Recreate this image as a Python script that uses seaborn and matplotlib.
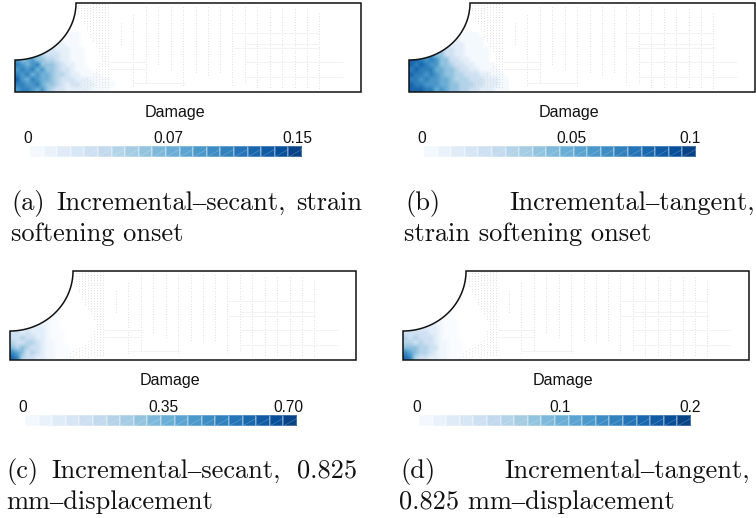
import numpy as np
import matplotlib
matplotlib.use('Agg')
import matplotlib.pyplot as plt
from matplotlib.colors import LinearSegmentedColormap, PowerNorm
from matplotlib.patches import Polygon
import seaborn as sns

W, H = 756, 518

# Damage field near the notch, in tenths (5 px cells)
damage_a = [
    [0, 0, 0, 0, 0, 0, 0, 0, 0, 0, 1, 1, 1, 0, 0, 0, 0, 0, 0, 0],
    [0, 0, 0, 0, 0, 0, 0, 0, 1, 1, 1, 1, 1, 0, 0, 0, 0, 0, 0, 0],
    [0, 0, 0, 0, 0, 0, 2, 2, 2, 2, 1, 1, 1, 0, 0, 0, 0, 0, 0, 0],
    [0, 0, 0, 0, 4, 4, 3, 3, 2, 2, 2, 1, 1, 1, 0, 0, 0, 0, 0, 0],
    [0, 0, 5, 5, 6, 4, 3, 3, 3, 2, 2, 1, 1, 1, 0, 0, 0, 0, 0, 0],
    [7, 5, 6, 7, 5, 5, 4, 4, 3, 2, 2, 1, 1, 1, 0, 0, 0, 0, 0, 0],
    [8, 7, 6, 7, 8, 5, 5, 5, 4, 3, 2, 2, 1, 1, 0, 0, 0, 0, 0, 0],
    [7, 8, 7, 8, 6, 7, 5, 5, 4, 3, 3, 2, 1, 1, 1, 0, 0, 0, 0, 0],
    [8, 7, 8, 6, 7, 6, 6, 5, 4, 4, 3, 2, 2, 1, 1, 1, 1, 0, 0, 0],
    [9, 7, 6, 8, 7, 6, 6, 5, 4, 3, 3, 3, 2, 2, 2, 1, 1, 1, 1, 0],
    [8, 8, 7, 7, 8, 6, 5, 5, 4, 3, 2, 3, 3, 2, 2, 2, 1, 1, 1, 1],
    [7, 8, 8, 7, 6, 7, 5, 4, 3, 3, 2, 2, 2, 2, 2, 1, 1, 1, 1, 0],
]
damage_b = [
    [0, 0, 0, 0, 0, 0, 0, 0, 0, 0, 1, 1, 1, 1, 0, 0, 0, 0, 0, 0],
    [0, 0, 0, 0, 0, 0, 0, 0, 2, 2, 1, 1, 1, 1, 1, 0, 0, 0, 0, 0],
    [0, 0, 0, 0, 0, 0, 4, 3, 2, 2, 2, 1, 1, 1, 1, 0, 0, 0, 0, 0],
    [0, 0, 0, 0, 6, 6, 5, 3, 3, 2, 2, 1, 1, 1, 1, 1, 0, 0, 0, 0],
    [0, 0, 8, 8, 7, 5, 5, 3, 3, 2, 2, 1, 1, 1, 1, 1, 0, 0, 0, 0],
    [9, 9, 8, 7, 8, 7, 5, 5, 3, 3, 2, 2, 1, 1, 1, 1, 0, 0, 0, 0],
    [9, 8, 9, 8, 7, 7, 5, 5, 4, 3, 3, 2, 2, 1, 1, 1, 1, 0, 0, 0],
    [8, 9, 8, 8, 8, 6, 6, 5, 5, 4, 3, 3, 2, 2, 1, 1, 1, 1, 0, 0],
    [9, 8, 8, 7, 8, 7, 6, 5, 5, 4, 4, 3, 3, 3, 2, 2, 1, 1, 1, 0],
    [8, 8, 7, 8, 7, 7, 6, 6, 5, 4, 4, 4, 3, 3, 3, 2, 2, 2, 1, 1],
    [9, 8, 8, 7, 7, 7, 6, 6, 5, 5, 4, 4, 4, 3, 3, 2, 2, 2, 1, 1],
    [9, 9, 9, 8, 8, 6, 7, 6, 5, 5, 4, 4, 3, 3, 2, 2, 2, 1, 1, 1],
]
damage_c = [
    [0, 0, 0, 0, 0, 0, 0, 0, 0, 0, 0, 0, 0, 0, 0, 0, 0, 0, 0, 0],
    [0, 0, 0, 0, 0, 0, 0, 0, 0, 0, 0, 0, 0, 0, 0, 0, 0, 0, 0, 0],
    [0, 0, 0, 0, 0, 0, 0, 1, 1, 1, 0, 0, 0, 0, 0, 0, 0, 0, 0, 0],
    [0, 0, 0, 0, 0, 1, 2, 2, 1, 1, 0, 0, 0, 0, 0, 0, 0, 0, 0, 0],
    [0, 0, 0, 2, 3, 3, 2, 2, 1, 1, 0, 0, 0, 0, 0, 0, 0, 0, 0, 0],
    [3, 3, 3, 3, 3, 3, 3, 2, 1, 1, 0, 0, 0, 0, 0, 0, 0, 0, 0, 0],
    [4, 4, 3, 4, 3, 3, 3, 2, 1, 1, 1, 0, 0, 0, 0, 0, 0, 0, 0, 0],
    [4, 4, 5, 4, 4, 3, 3, 2, 1, 1, 1, 0, 0, 0, 0, 0, 0, 0, 0, 0],
    [5, 4, 4, 5, 5, 4, 3, 2, 2, 1, 1, 0, 0, 0, 0, 0, 0, 0, 0, 0],
    [6, 5, 6, 5, 4, 4, 3, 2, 2, 1, 1, 1, 0, 0, 0, 0, 0, 0, 0, 0],
    [8, 7, 6, 4, 5, 4, 3, 2, 2, 1, 1, 1, 0, 0, 0, 0, 0, 0, 0, 0],
    [9, 8, 5, 4, 4, 3, 3, 2, 2, 1, 1, 1, 0, 0, 0, 0, 0, 0, 0, 0],
]
damage_d = [
    [0, 0, 0, 0, 0, 0, 0, 0, 0, 0, 0, 0, 0, 0, 0, 0, 0, 0, 0, 0],
    [0, 0, 0, 0, 0, 0, 0, 0, 0, 0, 0, 0, 0, 0, 0, 0, 0, 0, 0, 0],
    [0, 0, 0, 0, 0, 0, 0, 1, 1, 1, 0, 0, 0, 0, 0, 0, 0, 0, 0, 0],
    [0, 0, 0, 0, 0, 2, 2, 2, 1, 1, 0, 0, 0, 0, 0, 0, 0, 0, 0, 0],
    [0, 0, 0, 3, 3, 3, 2, 2, 1, 1, 1, 0, 0, 0, 0, 0, 0, 0, 0, 0],
    [3, 4, 4, 3, 3, 3, 3, 2, 1, 1, 1, 0, 0, 0, 0, 0, 0, 0, 0, 0],
    [4, 4, 4, 4, 4, 3, 3, 2, 1, 1, 1, 0, 0, 0, 0, 0, 0, 0, 0, 0],
    [5, 4, 5, 4, 4, 4, 3, 2, 1, 1, 1, 0, 0, 0, 0, 0, 0, 0, 0, 0],
    [5, 5, 4, 5, 4, 4, 3, 2, 2, 1, 1, 1, 0, 0, 0, 0, 0, 0, 0, 0],
    [6, 6, 6, 5, 5, 4, 4, 2, 2, 1, 1, 1, 0, 0, 0, 0, 0, 0, 0, 0],
    [8, 7, 6, 5, 5, 4, 3, 2, 2, 1, 1, 1, 0, 0, 0, 0, 0, 0, 0, 0],
    [9, 8, 5, 4, 4, 3, 3, 2, 2, 1, 1, 1, 0, 0, 0, 0, 0, 0, 0, 0],
]
fields = [damage_a, damage_b, damage_c, damage_d]
field_gamma = [1.0, 0.95, 1.25, 1.25]

# Legend strips
legend_levels = [0, 1, 2, 3, 4, 5, 6, 7, 8, 9, 10, 11, 12, 13, 14, 15, 16, 17, 18, 19]
tick_labels = [['0', '0.07', '0.15'], ['0', '0.05', '0.1'], ['0', '0.35', '0.70'], ['0', '0.1', '0.2']]

# Faint mesh columns
mesh_x = [106, 118, 131, 143, 156, 168, 181, 193, 205, 217, 230, 242, 255, 267, 280, 292, 304]
mesh_top = [20, 12, 4, 4, 4, 4, 4, 4, 4, 4, 4, 4, 6, 6, 6, 6, 10]
mesh_bottom = [42, 84, 80, 62, 68, 84, 70, 72, 70, 82, 80, 86, 86, 86, 86, 86, 86]
dot_x = [63, 66, 69, 72, 75, 78, 81, 84, 87, 90, 93]
dot_top = [2, 2, 2, 2, 2, 1, 1, 1, 1, 1, 1]
dot_bottom = [10, 16, 22, 28, 34, 38, 43, 50, 86, 86, 86]
band_x = [60, 63, 66, 69, 72, 75, 78, 81, 84]
band_top = [82, 80, 78, 77, 76, 74, 70, 66, 60]
hline_y = [30, 41, 45, 59, 59, 66, 74, 80]
hline_x0 = [218, 230, 218, 94, 230, 94, 230, 118]
hline_x1 = [305, 305, 305, 132, 328, 132, 328, 170]

# Panel frames in image pixels: left, top, notch width, notch height
panel_left = [15, 409, 10, 403]
panel_top = [3, 3, 271, 271]
notch_w = [61, 61, 63, 63]
notch_h = [57, 57, 60, 60]
panel_w = 346
panel_h = 89

bar_left = [30, 424, 25, 419]
bar_top = [146, 146, 415, 415]
bar_w = 272
bar_h = 11
title_x = [175, 569, 170, 563]
title_y = [112, 112, 381, 381]
tick_x = [[28, 168, 297], [422, 571, 690], [23, 163, 288], [417, 560, 690]]
tick_y = [138.5, 138.5, 407, 407]

sns.set_theme(style='white')
plt.rcParams['font.family'] = ['Liberation Sans', 'DejaVu Sans']
blues = LinearSegmentedColormap.from_list('damage', ['#ffffff', '#f4f9fd'] + sns.color_palette('Blues', 8))

fig = plt.figure(figsize=(W / 100, H / 100), dpi=100)


def px_axes(x, y, w, h):
    a = fig.add_axes([x / W, 1 - (y + h) / H, w / W, h / H])
    a.set_axis_off()
    return a


def px_text(x, y, s, **kw):
    fig.text(x / W, 1 - y / H, s, **kw)


dash = (0, (0.7, 2.4))
for i in range(4):
    ax = px_axes(panel_left[i], panel_top[i], panel_w, panel_h)

    t = np.linspace(0, np.pi / 2, 60)
    edge_x = np.r_[notch_w[i] * np.cos(t), 0, panel_w, panel_w]
    edge_y = np.r_[notch_h[i] * np.sin(t), panel_h, panel_h, 0]
    outline = np.column_stack([edge_x, edge_y])

    im = ax.imshow(np.array(fields[i]) / 10, cmap=blues, norm=PowerNorm(field_gamma[i], vmin=0, vmax=1), aspect='auto',
                   interpolation='bilinear', extent=[0, 100, panel_h, panel_h - 60], zorder=1)
    ax.set_xlim(0, panel_w)
    ax.set_ylim(panel_h, 0)
    clip = Polygon(outline, closed=True, transform=ax.transData, facecolor='none', edgecolor='none')
    ax.add_patch(clip)
    im.set_clip_path(clip)

    ax.vlines(mesh_x, mesh_top, mesh_bottom, color='#c4c4c4', lw=0.6, linestyles=[dash], zorder=2)
    ax.vlines(dot_x, dot_top, dot_bottom, color='#c4c4c4', lw=0.6, linestyles=[dash], zorder=2)
    ax.vlines(band_x, band_top, [86] * len(band_x), color='#cfcfcf', lw=0.6, linestyles=[dash], zorder=2)
    ax.hlines(hline_y, hline_x0, hline_x1, color='#f1f1f1', lw=0.6, zorder=2)

    ax.add_patch(Polygon(outline, closed=True, fill=False, edgecolor='#111111', lw=1.1, zorder=3, clip_on=False))

    # Legend strip, one cell per level
    cax = px_axes(bar_left[i], bar_top[i], bar_w, bar_h)
    sns.heatmap([legend_levels], ax=cax, cmap=sns.color_palette('Blues', as_cmap=True), vmin=-0.5, vmax=20.5,
                cbar=False, xticklabels=False, yticklabels=False, linewidths=0.15, linecolor=(1, 1, 1, 0.25))
    cax.set_axis_off()
    for lev in legend_levels[3:]:
        cax.plot([lev, lev + 1], [1, 0.3], color='white', lw=0.3, alpha=0.4)

    px_text(title_x[i], title_y[i], 'Damage', ha='center', va='center', fontsize=11.6, color='#111111')
    for x, lab in zip(tick_x[i], tick_labels[i]):
        px_text(x, tick_y[i], lab, ha='center', va='center', fontsize=11.2, color='#111111')

# Captions, spread to the column width as in the source page
serif = dict(family=['cmr10', 'Liberation Serif'], fontsize=19, color='#111111', va='baseline')
px_text(11, 210, '(a)', ha='left', **serif)
px_text(56, 210, 'Incremental\u2013secant,', ha='left', **serif)
px_text(362, 210, 'strain', ha='right', **serif)
px_text(11, 241.5, 'softening onset', ha='left', **serif)
px_text(405, 210, '(b)', ha='left', **serif)
px_text(755, 210, 'Incremental\u2013tangent,', ha='right', **serif)
px_text(404, 241.5, 'strain softening onset', ha='left', **serif)
px_text(6, 478, '(c)', ha='left', **serif)
px_text(51, 478, 'Incremental\u2013secant,', ha='left', **serif)
px_text(357, 478, '0.825', ha='right', **serif)
px_text(6, 509.5, 'mm\u2013displacement', ha='left', **serif)
px_text(400, 478, '(d)', ha='left', **serif)
px_text(750, 478, 'Incremental\u2013tangent,', ha='right', **serif)
px_text(399, 509.5, '0.825 mm\u2013displacement', ha='left', **serif)

fig.savefig('out.png', dpi=100)
